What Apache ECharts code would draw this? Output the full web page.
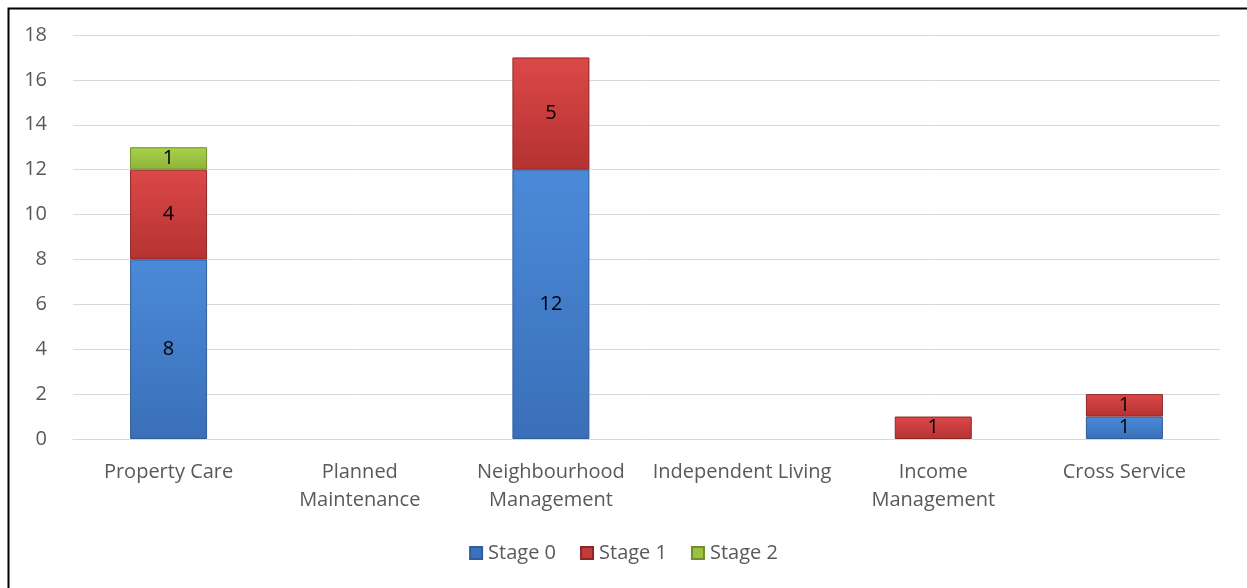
<!DOCTYPE html>
<html><head><meta charset="utf-8">
<script src="https://cdn.jsdelivr.net/npm/echarts@6/dist/echarts.min.js"></script>
<style>html,body{margin:0;padding:0;background:#fff}#c{width:1247px;height:588px}</style>
</head><body><div id="c"></div>
<script>
const categories = ['Property Care', 'Planned\nMaintenance', 'Neighbourhood\nManagement', 'Independent Living', 'Income\nManagement', 'Cross Service'];
const stage0 = [8, 0, 12, 0, 0, 1];
const stage1 = [4, 0, 5, 0, 1, 1];
const stage2 = [1, 0, 0, 0, 0, 0];
const seriesNames = ['Stage 0', 'Stage 1', 'Stage 2'];

const font = 'Open Sans';
function grad(top, bottom) {
  return new echarts.graphic.LinearGradient(0, 0, 0, 1, [{offset: 0, color: top}, {offset: 1, color: bottom}]);
}
const colors = [
  {fill: grad('#4b8ad9', '#3a6fb8'), border: '#2f5d9a', legend: '#3c72bd'},
  {fill: grad('#dc4848', '#b53232'), border: '#8e2626', legend: '#c23b3b'},
  {fill: grad('#a9d14a', '#8db33a'), border: '#6f8f2a', legend: '#9bc143'}
];
function mk(name, data, i) {
  return {
    name, type: 'bar', stack: 's', barWidth: 77,
    data: data.map(v => v === 0 ? null : v),
    itemStyle: {color: colors[i].fill, borderColor: colors[i].border, borderWidth: 1},
    label: {show: true, position: 'inside', color: '#000', fontFamily: font, fontSize: 20,
      formatter: p => p.value ? p.value : ''},
    emphasis: {disabled: true}
  };
}
const chart = echarts.init(document.getElementById('c'), null, {renderer: 'canvas'});
chart.setOption({
  animation: false,
  backgroundColor: '#fff',
  graphic: [{type: 'rect', left: 6, top: 6, shape: {width: 1300, height: 700},
    style: {fill: 'none', stroke: '#000', lineWidth: 2}, silent: true, z: -1}],
  grid: {left: 73, right: 27, top: 35, bottom: 149, containLabel: false},
  legend: {
    bottom: 20, left: 'center', itemWidth: 12, itemHeight: 12, itemGap: 24,
    textStyle: {color: '#595959', fontFamily: font, fontSize: 20, padding: [0, 0, 0, 1]},
    data: seriesNames.map((n, i) => ({name: n, icon: 'rect', itemStyle: {color: colors[i].legend}}))
  },
  xAxis: {
    type: 'category', data: categories,
    axisLine: {lineStyle: {color: '#d9d9d9', width: 1}},
    axisTick: {show: false},
    axisLabel: {color: '#595959', fontFamily: font, fontSize: 20, margin: 19, lineHeight: 28, interval: 0}
  },
  yAxis: {
    type: 'value', min: 0, max: 18, interval: 2,
    axisLine: {show: false}, axisTick: {show: false},
    splitLine: {lineStyle: {color: '#d9d9d9', width: 1}},
    axisLabel: {color: '#595959', fontFamily: font, fontSize: 20, margin: 26}
  },
  series: [mk(seriesNames[0], stage0, 0), mk(seriesNames[1], stage1, 1), mk(seriesNames[2], stage2, 2)]
});
</script></body></html>
